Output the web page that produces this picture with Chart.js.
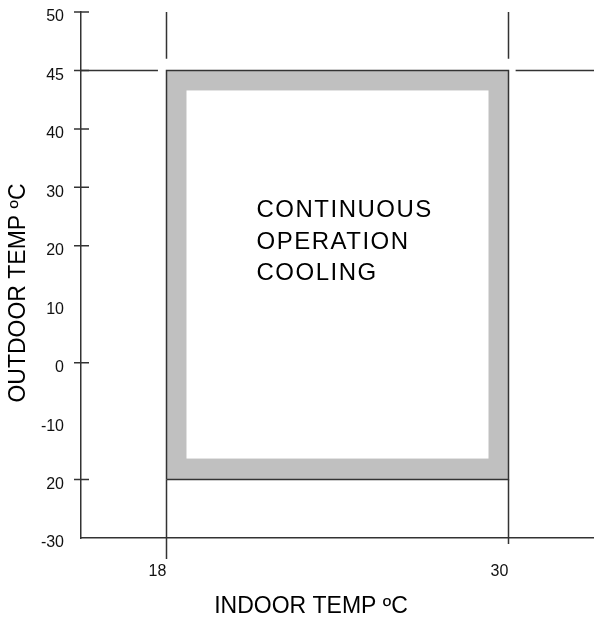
<!DOCTYPE html>
<html>
<head>
<meta charset="utf-8">
<title>Continuous operation cooling range</title>
<script src="https://cdn.jsdelivr.net/npm/chart.js@4.4.1/dist/chart.umd.min.js"></script>
<style>
    html, body { margin: 0; padding: 0; background: #fff; }
    canvas { display: block; }
</style>
</head>
<body>
<canvas id="chart" width="594" height="625"></canvas>
<script>
// Operating range chart: indoor vs outdoor temperature

// outdoor axis - the ticks sit evenly spaced on the drawing, not to scale
const outdoorTicks = [-30, -20, -10, 0, 10, 20, 30, 40, 45, 50];
const outdoorLabels = ['-30', '20', '-10', '0', '10', '20', '30', '40', '45', '50'];
const outdoorMarked = [-20, 0, 20, 30, 40, 45, 50]; // ticks with a mark on the axis
const indoorTicks = [18, 30];
const indoorRange = [15, 33];

// continuous operation zone
const zoneIndoor = [18, 30];
const zoneOutdoor = [-20, 45];
const zoneText = ['CONTINUOUS', 'OPERATION', 'COOLING'];

// guide lines running out from the zone corners
const guideTop = [50, 46];       // outdoor, vertical guides above the zone
const guideBottom = [-20, -30];  // outdoor, vertical guides below the zone
const guideLeft = [15, 17.7];    // indoor, 45 line left of the zone
const guideRight = [30.25, 33];  // indoor, 45 line right of the zone

const LINE = '#333';
const FONT = '"Liberation Sans", Arial, sans-serif';

// outdoor temp -> position along the (evenly spaced) axis
function slot(t) {
    const n = outdoorTicks.length;
    let i = 0;
    while (i < n - 2 && t > outdoorTicks[i + 1]) i++;
    const a = outdoorTicks[i], b = outdoorTicks[i + 1];
    return i + (t - a) / (b - a);
}

const pt = (x, y) => ({ x: x, y: slot(y) });

const zone = [
    pt(zoneIndoor[0], zoneOutdoor[0]),
    pt(zoneIndoor[0], zoneOutdoor[1]),
    pt(zoneIndoor[1], zoneOutdoor[1]),
    pt(zoneIndoor[1], zoneOutdoor[0]),
    pt(zoneIndoor[0], zoneOutdoor[0])
];

const guides = [];
zoneIndoor.forEach(x => {
    guides.push([pt(x, guideTop[0]), pt(x, guideTop[1])]);
    guides.push([pt(x, guideBottom[0]), pt(x, guideBottom[1])]);
});
guides.push([pt(guideLeft[0], zoneOutdoor[1]), pt(guideLeft[1], zoneOutdoor[1])]);
guides.push([pt(guideRight[0], zoneOutdoor[1]), pt(guideRight[1], zoneOutdoor[1])]);

const lineStyle = {
    showLine: true,
    borderColor: LINE,
    borderWidth: 1.5,
    pointRadius: 0,
    fill: false,
    clip: false
};

const datasets = [
    Object.assign({}, lineStyle, {
        label: 'zone',
        data: zone,
        fill: 'shape',
        backgroundColor: '#c0c0c0'
    })
].concat(guides.map((g, i) => Object.assign({}, lineStyle, { label: 'guide' + i, data: g })));

const overlay = {
    id: 'overlay',
    afterDatasetsDraw(chart) {
        const { ctx, scales: { x, y } } = chart;
        const left = x.getPixelForValue(zoneIndoor[0]);
        const right = x.getPixelForValue(zoneIndoor[1]);
        const top = y.getPixelForValue(slot(zoneOutdoor[1]));
        const bottom = y.getPixelForValue(slot(zoneOutdoor[0]));
        const band = 20;

        ctx.save();
        ctx.fillStyle = '#fff';
        ctx.fillRect(left + band, top + band, right - left - 2 * band, bottom - top - 2 * band - 1);

        ctx.fillStyle = '#000';
        ctx.font = '24px ' + FONT;
        ctx.textAlign = 'left';
        ctx.textBaseline = 'alphabetic';
        ctx.letterSpacing = '1.5px';
        zoneText.forEach((t, i) => ctx.fillText(t, left + 90, top + 147 + i * 31.5));
        ctx.restore();
    },
    afterDraw(chart) {
        const { ctx, chartArea: area, scales: { x, y } } = chart;
        ctx.save();
        ctx.strokeStyle = LINE;
        ctx.lineWidth = 1.5;
        ctx.beginPath();
        // outdoor ticks cross the axis
        outdoorMarked.forEach(v => {
            const py = y.getPixelForValue(slot(v));
            ctx.moveTo(area.left - 7, py);
            ctx.lineTo(area.left + 8, py);
        });
        // indoor ticks hang below the axis
        const drop = [21, 6];
        indoorTicks.forEach((v, i) => {
            const px = x.getPixelForValue(v);
            ctx.moveTo(px, area.bottom);
            ctx.lineTo(px, area.bottom + drop[i]);
        });
        ctx.stroke();

        // axis titles
        ctx.fillStyle = '#000';
        ctx.font = '23px ' + FONT;
        ctx.textAlign = 'center';
        ctx.textBaseline = 'middle';
        ctx.fillText('INDOOR TEMP ºC', 311, 607);
        ctx.translate(19, 293);
        ctx.rotate(-Math.PI / 2);
        ctx.fillText('OUTDOOR TEMP ºC', 0, 0);
        ctx.restore();
    }
};

new Chart(document.getElementById('chart'), {
    type: 'scatter',
    data: { datasets: datasets },
    options: {
        responsive: false,
        animation: false,
        layout: { padding: { top: 12, right: 0, left: 0, bottom: 0 } },
        plugins: {
            legend: { display: false },
            tooltip: { enabled: false }
        },
        scales: {
            x: {
                type: 'linear',
                min: indoorRange[0],
                max: indoorRange[1],
                afterBuildTicks: s => { s.ticks = indoorTicks.map(v => ({ value: v })); },
                afterFit: s => { s.height = 87; s.paddingLeft = 0; s.paddingRight = 0; },
                grid: { display: false, drawTicks: false },
                border: { display: true, color: LINE, width: 1.5 },
                ticks: {
                    padding: 24,
                    labelOffset: -9,
                    color: '#111',
                    font: { family: FONT, size: 16 },
                    callback: v => String(v)
                }
            },
            y: {
                type: 'linear',
                min: 0,
                max: outdoorTicks.length - 1,
                afterBuildTicks: s => { s.ticks = outdoorTicks.map(v => ({ value: slot(v) })); },
                // labels sit far from the axis; keep that gap out of the top/bottom padding
                afterFit: s => { s.width = 81; s.paddingTop = 0; s.paddingBottom = 0; },
                grid: { display: false, drawTicks: false },
                border: { display: true, color: LINE, width: 1.5 },
                ticks: {
                    autoSkip: false,
                    padding: 17,
                    labelOffset: 5,
                    color: '#111',
                    font: { family: FONT, size: 16 },
                    callback: (v, i) => outdoorLabels[i]
                }
            }
        }
    },
    plugins: [overlay]
});
</script>
</body>
</html>
